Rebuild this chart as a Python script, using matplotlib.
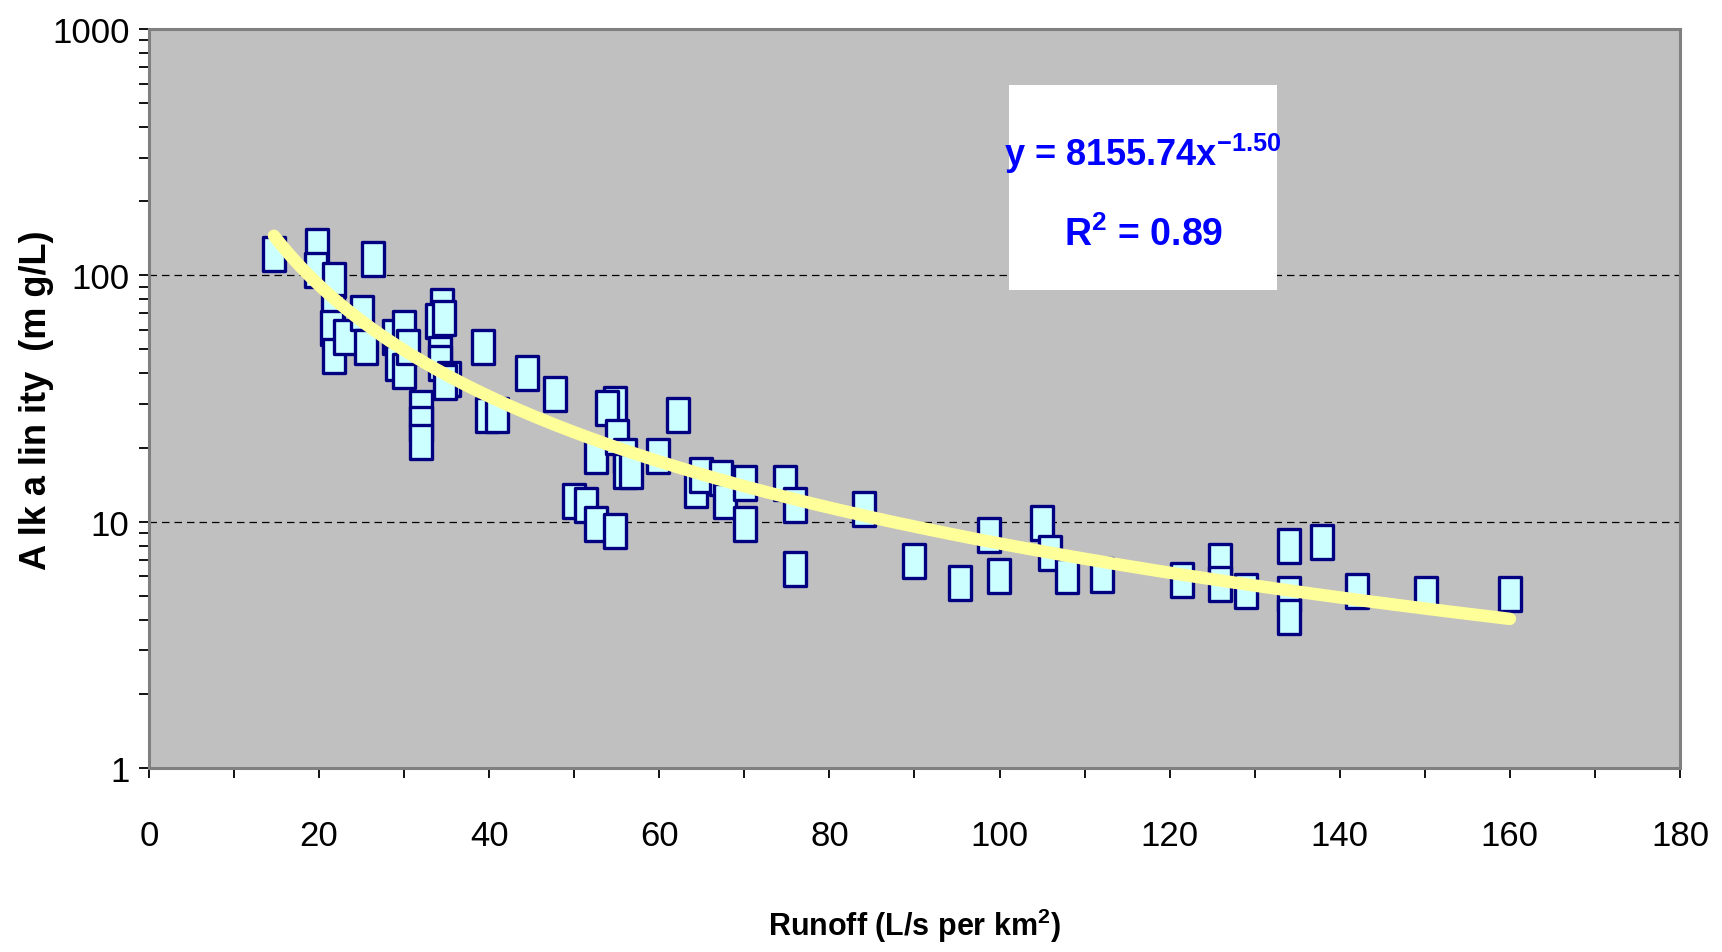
import numpy as np
import matplotlib
matplotlib.use("Agg")
import matplotlib.pyplot as plt
from matplotlib.path import Path
from matplotlib.ticker import LogLocator, MultipleLocator, FixedLocator, NullFormatter
from matplotlib.patches import Rectangle

plt.rcParams["font.family"] = ["Liberation Sans", "DejaVu Sans"]
plt.rcParams["mathtext.fontset"] = "custom"
plt.rcParams["mathtext.rm"] = "Liberation Sans"
plt.rcParams["mathtext.bf"] = "Liberation Sans:bold"

# runoff (L/s per km2) and alkalinity (mg/L)
runoff = [
    14.7, 19.8, 19.6, 21.8, 21.6, 21.5, 21.7, 23.0, 25.0, 25.5,
    26.3, 28.8, 30.0, 29.2, 30.0, 30.5, 32.0, 32.0, 32.0, 34.4,
    33.9, 34.7, 34.2, 34.2, 35.3, 34.8, 39.3, 39.7, 40.9, 44.4,
    47.7, 50.0, 51.4, 52.5, 54.8, 52.5, 54.8, 53.9, 55.0, 56.0,
    56.0, 56.7, 59.9, 62.2, 64.3, 64.9, 67.2, 67.7, 70.1, 70.1,
    74.8, 75.9, 75.9, 84.1, 90.0, 95.4, 98.8, 99.9, 105.0, 105.9,
    107.9, 112.0, 121.4, 125.9, 125.9, 129.0, 134.0, 134.0, 134.0, 137.9,
    142.0, 150.1, 160.0,
]
alkalinity = [
    122, 131, 105, 96, 71, 61, 47, 56, 70, 51,
    117, 56, 61, 44, 41, 51, 29, 25, 21, 75,
    65, 67, 48, 44, 38, 37, 51, 27, 27, 40,
    33, 12.1, 11.7, 9.8, 9.2, 18.4, 30, 29, 22, 18.5,
    16.0, 16.0, 18.5, 27.1, 13.5, 15.5, 15.0, 12.1, 14.4, 9.8,
    14.4, 11.7, 6.45, 11.3, 6.9, 5.62, 8.86, 6.04, 9.85, 7.44,
    6.0, 6.05, 5.82, 6.9, 5.58, 5.23, 7.97, 5.07, 4.09, 8.27,
    5.25, 5.07, 5.07,
]

# power trendline shown on the chart
FIT_A = 8155.74
FIT_B = -1.50
FIT_R2 = 0.89

x_ticks = [0, 20, 40, 60, 80, 100, 120, 140, 160, 180]
y_ticks = [1, 10, 100, 1000]


def main():
    fig = plt.figure(figsize=(17.22, 9.53), dpi=100)
    ax = fig.add_axes([0.0865, 0.1931, 0.8891, 0.7754])
    ax.set_facecolor("#C0C0C0")

    box = Path([(-0.32, -0.5), (0.32, -0.5), (0.32, 0.5), (-0.32, 0.5), (-0.32, -0.5)],
               [Path.MOVETO, Path.LINETO, Path.LINETO, Path.LINETO, Path.CLOSEPOLY])
    ax.plot(runoff, alkalinity, linestyle="none", marker=box, markersize=25,
            markerfacecolor="#CCFFFF", markeredgecolor="#000080",
            markeredgewidth=2.4, zorder=3)

    xf = np.linspace(min(runoff), max(runoff), 300)
    ax.plot(xf, FIT_A * xf ** FIT_B, color="#FFFF99", linewidth=9,
            solid_capstyle="round", zorder=4)

    ax.set_yscale("log")
    ax.set_xlim(0, 180)
    ax.set_ylim(1, 1000)

    ax.xaxis.set_major_locator(FixedLocator(x_ticks))
    ax.xaxis.set_minor_locator(MultipleLocator(10))
    ax.set_xticklabels([str(t) for t in x_ticks])
    ax.yaxis.set_major_locator(FixedLocator(y_ticks))
    ax.yaxis.set_minor_locator(LogLocator(base=10, subs=np.arange(2, 10)))
    ax.yaxis.set_minor_formatter(NullFormatter())
    ax.set_yticklabels([str(t) for t in y_ticks])

    ax.tick_params(axis="both", which="both", direction="out", length=7,
                   width=1.3, color="black")
    ax.tick_params(axis="x", which="major", labelsize=25, pad=30)
    ax.tick_params(axis="y", which="major", labelsize=25, pad=7)

    for side in ["top", "right", "left", "bottom"]:
        ax.spines[side].set_color("#808080")
        ax.spines[side].set_linewidth(2.2)

    for yv in [10, 100]:
        ax.axhline(yv, color="black", linewidth=0.9, dashes=(6, 4), zorder=1)

    ax.add_patch(Rectangle((0.562, 0.647), 0.175, 0.277, transform=ax.transAxes,
                           facecolor="white", edgecolor="none", zorder=5))
    ax.text(0.649, 0.832, "y = 8155.74x$^{\\mathbf{-1.50}}$", transform=ax.transAxes,
            ha="center", va="center", fontsize=26, fontweight="bold",
            color="#0000FF", zorder=6)
    ax.text(0.650, 0.722, "R$^{\\mathbf{2}}$ = %.2f" % FIT_R2, transform=ax.transAxes,
            ha="center", va="center", fontsize=27, fontweight="bold",
            color="#0000FF", zorder=6)

    fig.text(0.531, 0.028, "Runoff (L/s per km$^{\\mathbf{2}}$)", ha="center",
             va="center", fontsize=22, fontweight="bold")
    fig.text(0.021, 0.58, "A lk a lin ity  (m g/L)", rotation=90, ha="center",
             va="center", fontsize=26, fontweight="bold")

    fig.savefig("out.png", dpi=100)


if __name__ == "__main__":
    main()
